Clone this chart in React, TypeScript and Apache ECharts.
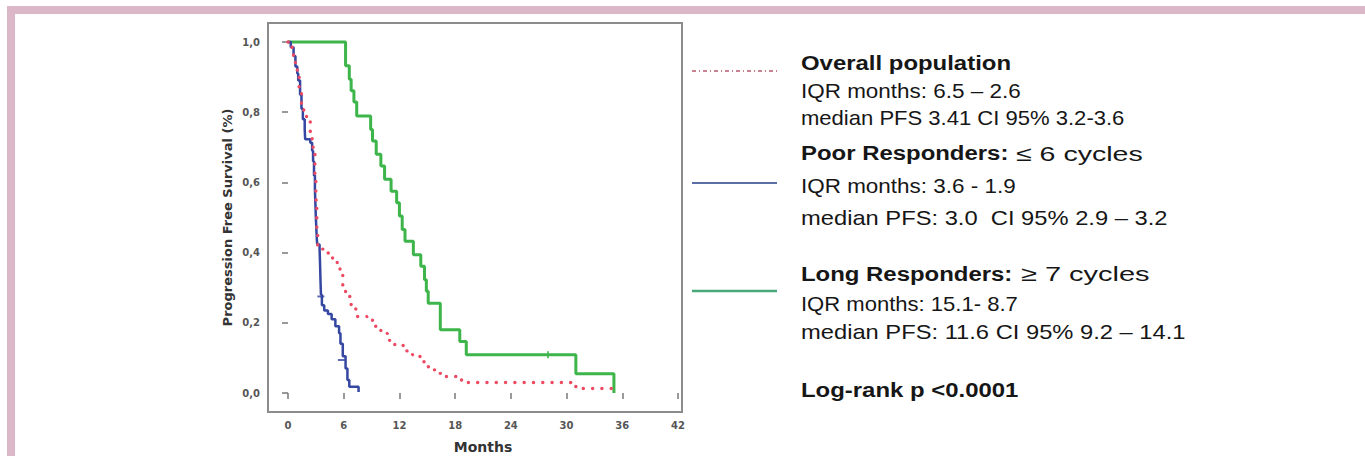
import React, { useEffect, useRef } from "react";
import * as echarts from "echarts";

// Axis ticks
const xTicks = [0, 6, 12, 18, 24, 30, 36, 42];
const yTicks = [0, 0.2, 0.4, 0.6, 0.8, 1.0];

// Overall population (Kaplan-Meier steps: time in months, survival after the step)
const overallT = [0, 0.3, 0.6, 0.8, 1.0, 1.2, 1.45, 1.7, 2.0, 2.4, 2.6, 2.7, 2.9, 3.0, 3.1, 3.2, 3.7, 4.2, 4.8, 5.3, 5.6, 5.9, 6.2, 6.8, 7.3, 8.5, 9.1, 10.0, 10.7, 11.5, 12.4, 13.4, 14.1, 14.5, 15.0, 15.6, 16.3, 17.0, 18.4, 19.1, 31.0, 35.1];
const overallS = [1.0, 0.985, 0.96, 0.93, 0.91, 0.87, 0.82, 0.79, 0.775, 0.745, 0.72, 0.69, 0.62, 0.55, 0.45, 0.418, 0.41, 0.399, 0.38, 0.36, 0.335, 0.3, 0.275, 0.24, 0.218, 0.211, 0.19, 0.17, 0.15, 0.137, 0.12, 0.109, 0.104, 0.089, 0.075, 0.066, 0.056, 0.047, 0.037, 0.03, 0.013, 0.01];

// Poor responders
const poorT = [0, 0.3, 0.6, 0.8, 1.0, 1.1, 1.3, 1.45, 1.6, 1.8, 1.85, 2.4, 2.6, 2.7, 2.8, 2.9, 2.95, 3.0, 3.05, 3.1, 3.15, 3.4, 3.45, 3.5, 3.55, 3.65, 3.9, 4.3, 4.7, 5.1, 5.5, 5.65, 5.9, 6.2, 6.4, 6.6, 7.6];
const poorS = [1.0, 0.985, 0.96, 0.93, 0.91, 0.89, 0.85, 0.81, 0.78, 0.75, 0.723, 0.713, 0.69, 0.66, 0.62, 0.58, 0.54, 0.5, 0.47, 0.44, 0.423, 0.41, 0.37, 0.32, 0.28, 0.25, 0.235, 0.225, 0.21, 0.19, 0.17, 0.14, 0.105, 0.07, 0.037, 0.018, 0.003];
const poorCensorT = [3.54, 5.75];
const poorCensorS = [0.275, 0.094];

// Long responders
const longT = [0, 6.2, 6.6, 6.8, 7.1, 7.4, 8.9, 9.1, 9.5, 10.0, 10.4, 11.1, 11.7, 12.0, 12.3, 12.6, 13.5, 14.3, 14.7, 14.9, 15.1, 16.4, 18.5, 19.2, 31.0, 35.1];
const longS = [1.0, 0.932, 0.894, 0.861, 0.829, 0.789, 0.751, 0.718, 0.68, 0.647, 0.609, 0.575, 0.542, 0.504, 0.466, 0.432, 0.394, 0.361, 0.323, 0.29, 0.256, 0.18, 0.147, 0.109, 0.055, 0.0];
const longCensorT = [28.0];
const longCensorS = [0.109];

// Legend texts
const legendLines = [
  { y: 62, bold: "Overall population", text: "" },
  { y: 90, bold: "", text: "IQR months: 6.5 \u2013 2.6" },
  { y: 117.5, bold: "", text: "median PFS 3.41 CI 95% 3.2-3.6" },
  { y: 152, bold: "Poor Responders:", text: "\u2264 6 cycles" },
  { y: 184.5, bold: "", text: "IQR months: 3.6 - 1.9" },
  { y: 217, bold: "", text: "median PFS: 3.0  CI 95% 2.9 \u2013 3.2" },
  { y: 273, bold: "Long Responders:", text: "\u2265 7 cycles" },
  { y: 303, bold: "", text: "IQR months: 15.1- 8.7" },
  { y: 331, bold: "", text: "median PFS: 11.6 CI 95% 9.2 \u2013 14.1" },
  { y: 389, bold: "Log-rank p <0.0001", text: "" },
];

const zip = (t: number[], s: number[]) => t.map((v, i) => [v, s[i]]);

export default function App() {
  const ref = useRef<HTMLDivElement>(null);
  useEffect(() => {
    if (!ref.current) return;
    const chart = echarts.init(ref.current, null, { renderer: "svg" });
    const sans = "'Liberation Sans', Arial, sans-serif";
    const axFont = "'DejaVu Sans', sans-serif";
    // per-line horizontal layout (bold scale, regular x, regular scale)
    const layout = [
      { bs: 1.14, rx: 801, rs: 1.1 },
      { bs: 1.14, rx: 801, rs: 1.07 },
      { bs: 1.14, rx: 801, rs: 1.05 },
      { bs: 1.14, rx: 1016, rs: 1.36 },
      { bs: 1.14, rx: 801, rs: 1.07 },
      { bs: 1.14, rx: 801, rs: 1.13 },
      { bs: 1.14, rx: 1021, rs: 1.38 },
      { bs: 1.14, rx: 801, rs: 1.05 },
      { bs: 1.14, rx: 801, rs: 1.13 },
      { bs: 1.14, rx: 801, rs: 1.1 },
    ];
    const legendText: any[] = [];
    legendLines.forEach((l, i) => {
      const lay = layout[i];
      if (l.bold) {
        legendText.push({
          type: "text",
          x: 801,
          y: l.y + 1,
          scaleX: lay.bs,
          silent: true,
          style: {
            text: l.bold,
            fontSize: 21,
            fontFamily: sans,
            fontWeight: "bold",
            fill: "#161616",
            align: "left",
            verticalAlign: "middle",
          },
        });
      }
      if (l.text) {
        legendText.push({
          type: "text",
          x: lay.rx,
          y: l.y + 1,
          scaleX: lay.rs,
          silent: true,
          style: {
            text: l.text,
            fontSize: 21,
            fontFamily: sans,
            fill: "#161616",
            align: "left",
            verticalAlign: "middle",
          },
        });
      }
    });
    chart.setOption({
      animation: false,
      backgroundColor: "#ffffff",
      grid: { left: 288, top: 42, width: 390, height: 351, outerBoundsMode: "none", containLabel: false },
      xAxis: {
        type: "value",
        min: xTicks[0],
        max: xTicks[xTicks.length - 1],
        interval: xTicks[1] - xTicks[0],
        offset: 19,
        name: "Months",
        nameLocation: "middle",
        nameGap: 28,
        nameTextStyle: { fontFamily: axFont, fontWeight: "bold", fontSize: 14, color: "#333" },
        axisLine: { show: false },
        axisTick: { show: true, length: 6, lineStyle: { color: "#777", width: 1.5 } },
        axisLabel: { fontFamily: axFont, fontWeight: "bold", fontSize: 10, color: "#555", margin: 8 },
        splitLine: { show: false },
      },
      yAxis: {
        type: "value",
        min: yTicks[0],
        max: yTicks[yTicks.length - 1],
        interval: yTicks[1] - yTicks[0],
        offset: 20,
        name: "Progression Free Survival (%)",
        nameLocation: "middle",
        nameGap: 34,
        nameRotate: 90,
        nameTextStyle: { fontFamily: axFont, fontWeight: "bold", fontSize: 13, color: "#333" },
        axisLine: { show: false },
        axisTick: { show: true, length: 6, lineStyle: { color: "#777", width: 1.5 } },
        axisLabel: {
          fontFamily: axFont,
          fontWeight: "bold",
          fontSize: 10,
          color: "#555",
          margin: 8,
          formatter: (v: number) => v.toFixed(1).replace(".", ","),
        },
        splitLine: { show: false },
      },
      series: [
        {
          name: "Long Responders",
          type: "line",
          step: "end",
          symbol: "none",
          clip: false,
          data: zip(longT, longS),
          lineStyle: { color: "#3db54a", width: 3 },
          z: 2,
        },
        {
          name: "Poor Responders",
          type: "line",
          step: "end",
          symbol: "none",
          clip: false,
          data: zip(poorT, poorS),
          lineStyle: { color: "#3547a0", width: 2.5 },
          z: 3,
        },
        {
          name: "Overall population",
          type: "line",
          step: "end",
          symbol: "none",
          clip: false,
          data: zip(overallT, overallS),
          lineStyle: { color: "#ec4a62", width: 3.4, type: [0.1, 9.2], cap: "round" },
          z: 4,
        },
        {
          type: "scatter",
          symbol: "rect",
          symbolSize: [2, 7],
          data: zip(longCensorT, longCensorS),
          itemStyle: { color: "#3db54a" },
          z: 5,
        },
        {
          type: "scatter",
          symbol: "rect",
          symbolSize: [7, 2],
          data: zip(poorCensorT, poorCensorS),
          itemStyle: { color: "#3547a0" },
          z: 5,
        },
      ],
      graphic: [
        { type: "rect", silent: true, shape: { x: 7, y: 6, width: 1358, height: 8 }, style: { fill: "#dbb7c8" } },
        { type: "rect", silent: true, shape: { x: 7, y: 6, width: 8, height: 450 }, style: { fill: "#dbb7c8" } },
        {
          type: "rect",
          silent: true,
          shape: { x: 268, y: 23, width: 414, height: 389 },
          style: { fill: "none", stroke: "#8c8c8c", lineWidth: 2 },
        },
        {
          type: "line",
          silent: true,
          shape: { x1: 692, y1: 71, x2: 777, y2: 71 },
          style: { stroke: "#b85a6e", lineWidth: 1.5, lineDash: [4, 3, 1, 3] },
        },
        {
          type: "line",
          silent: true,
          shape: { x1: 692, y1: 183, x2: 777, y2: 183 },
          style: { stroke: "#5b6fa6", lineWidth: 2 },
        },
        {
          type: "line",
          silent: true,
          shape: { x1: 692, y1: 291, x2: 777, y2: 291 },
          style: { stroke: "#4aa97a", lineWidth: 2.5 },
        },
        ...legendText,
      ],
    });
    return () => chart.dispose();
  }, []);
  return (
    <div
      ref={ref}
      style={{ position: "absolute", left: 0, top: 0, width: 1365, height: 456, background: "#fff" }}
    />
  );
}
